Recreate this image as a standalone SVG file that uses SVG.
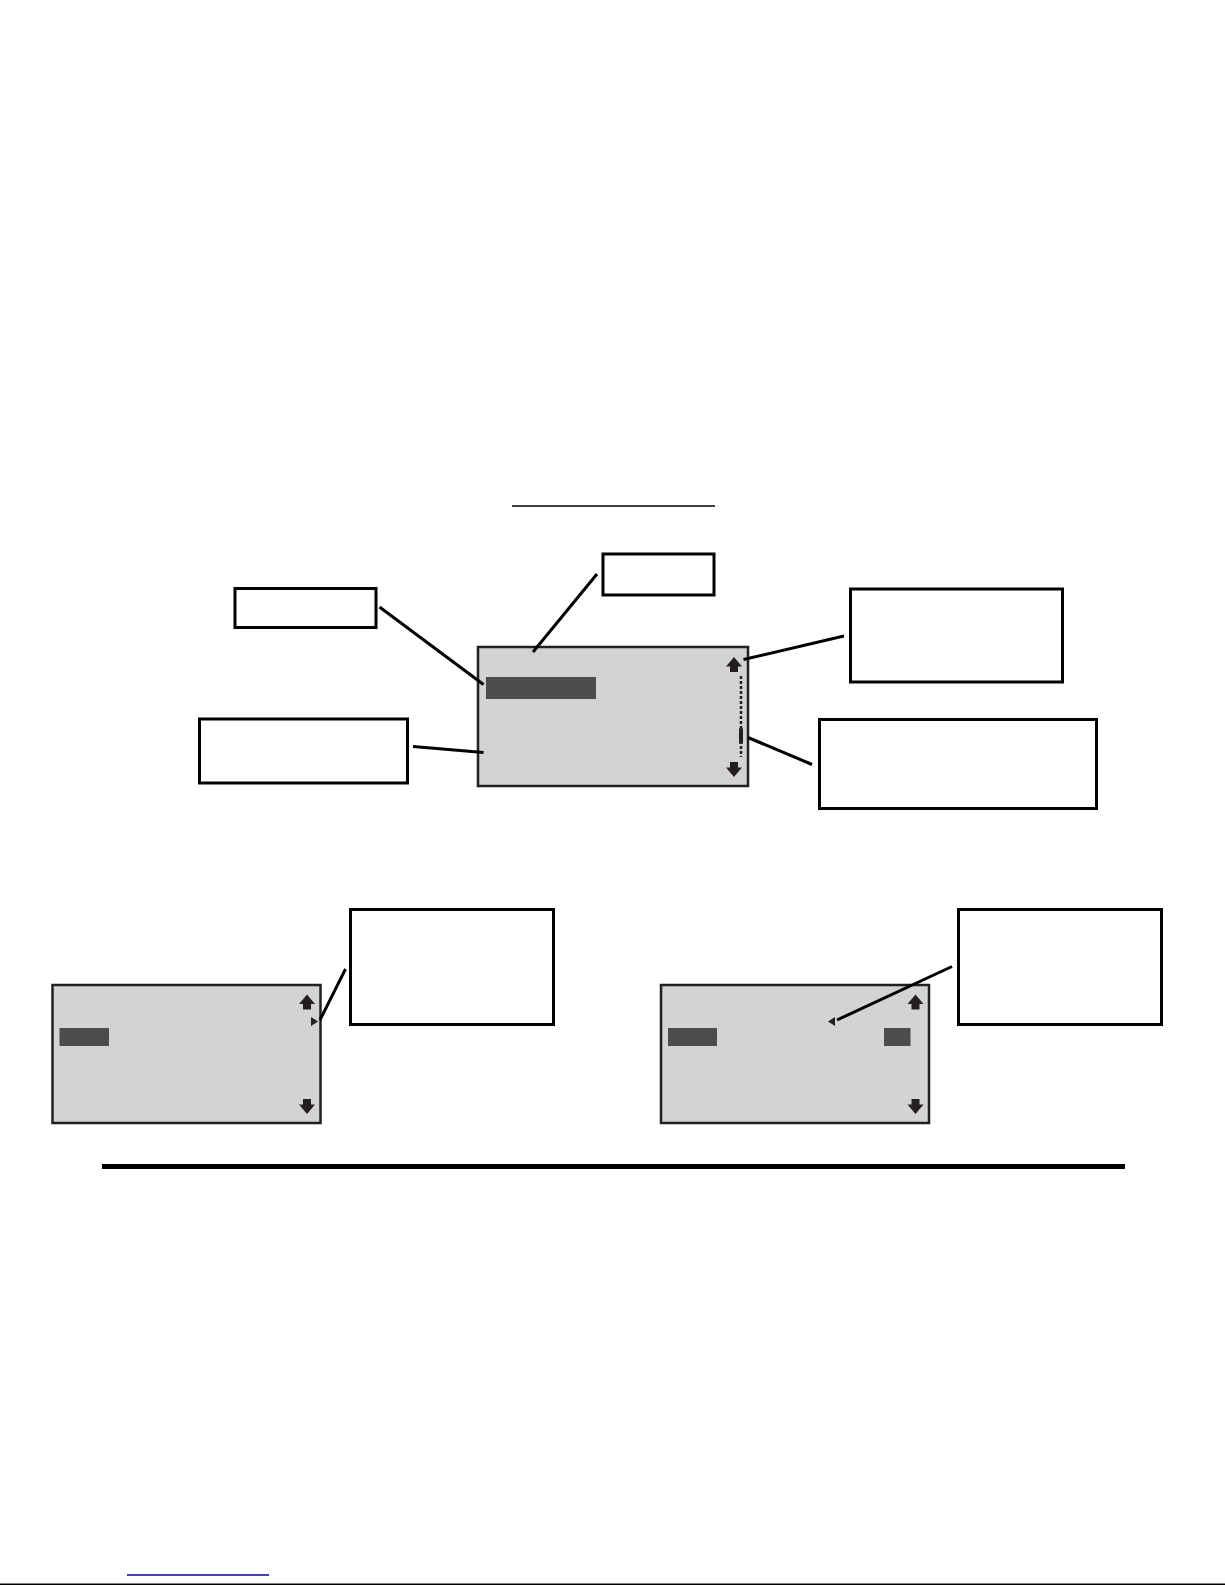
<svg xmlns="http://www.w3.org/2000/svg" width="1225" height="1585" viewBox="0 0 1225 1585">
<style>
.box{fill:#fff;stroke:#000;stroke-width:3}
.screen{fill:#d3d3d3;stroke:#231f20;stroke-width:2.5}
.hl{fill:#4d4b4c}
.con{stroke:#000;stroke-width:3;fill:none}
.glyph{fill:#231f20}
</style>
<defs>
<path id="up" d="M0,0 L8,9.5 L4,9.5 L4,15 L-4,15 L-4,9.5 L-8,9.5 Z"/>
<path id="down" d="M0,15 L8,5.5 L4,5.5 L4,0 L-4,0 L-4,5.5 L-8,5.5 Z"/>
</defs>
<rect width="1225" height="1585" fill="#fff"/>
<line x1="512" y1="506" x2="715" y2="506" stroke="#000" stroke-width="1.5"/>

<g id="main-screen">
<rect class="screen" x="478" y="647" width="270" height="139"/>
<rect class="hl" x="486" y="677" width="110" height="22"/>
<use href="#up" class="glyph" x="734" y="657"/>
<line x1="741" y1="676" x2="741" y2="757" stroke="#231f20" stroke-width="2.5" stroke-dasharray="3,2"/>
<rect class="glyph" x="739" y="728.5" width="4" height="15"/>
<use href="#down" class="glyph" x="734" y="762"/>
</g>

<g id="box-top"><rect class="box" x="603" y="554" width="111" height="41"/></g>
<g id="box-left-1"><rect class="box" x="235" y="588.5" width="141" height="39"/></g>
<g id="box-left-2"><rect class="box" x="199.5" y="719" width="208" height="64"/></g>
<g id="box-right-1"><rect class="box" x="850.5" y="589" width="212" height="93"/></g>
<g id="box-right-2"><rect class="box" x="819.5" y="719.5" width="277" height="89"/></g>

<g id="left-screen">
<rect class="screen" x="52.5" y="985" width="268" height="138"/>
<rect class="hl" x="59.5" y="1028" width="49.5" height="18"/>
<use href="#up" class="glyph" x="307" y="994.5"/>
<polygon class="glyph" points="311,1017 318,1021.5 311,1026"/>
<use href="#down" class="glyph" x="307" y="1099"/>
</g>
<g id="box-bottom-left"><rect class="box" x="350.5" y="909.5" width="203" height="115"/></g>

<g id="right-screen">
<rect class="screen" x="661" y="985" width="268" height="138"/>
<rect class="hl" x="668" y="1028" width="49" height="18"/>
<rect class="hl" x="884" y="1028" width="26.5" height="18"/>
<use href="#up" class="glyph" x="915.5" y="994.5"/>
<polygon class="glyph" points="835,1017 828,1021.5 835,1026"/>
<use href="#down" class="glyph" x="915.5" y="1099"/>
</g>
<g id="box-bottom-right"><rect class="box" x="958.5" y="909.5" width="203" height="115"/></g>

<g id="connectors">
<line class="con" x1="597" y1="574" x2="533" y2="652"/>
<line class="con" x1="379.5" y1="607" x2="483.5" y2="684.5"/>
<line class="con" x1="413" y1="746.5" x2="483.5" y2="752.5"/>
<line class="con" x1="844" y1="636" x2="743.5" y2="659.5"/>
<line class="con" x1="812" y1="764.5" x2="748" y2="737.5"/>
<line class="con" x1="345.5" y1="969" x2="320" y2="1020"/>
<line class="con" x1="952" y1="966.5" x2="837" y2="1020"/>
</g>

<rect x="102" y="1164" width="1023" height="5" fill="#000"/>
<line x1="127" y1="1575" x2="269" y2="1575" stroke="#0000cc" stroke-width="1.5"/>
<rect x="0" y="1583.5" width="1225" height="1.5" fill="#000"/>
</svg>
